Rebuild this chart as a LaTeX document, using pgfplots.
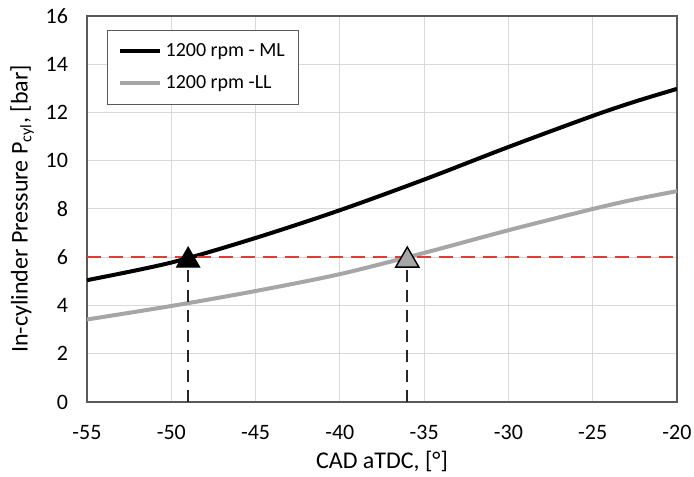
\documentclass[border=0pt]{standalone}
\usepackage{fontspec}
\setmainfont{Carlito}
\usepackage{pgfplots}
\pgfplotsset{compat=1.18}
\definecolor{gridc}{HTML}{D9D9D9}
\definecolor{llgray}{HTML}{A6A6A6}
\definecolor{redd}{HTML}{E03C31}
\definecolor{framec}{HTML}{595959}
\begin{document}
\begin{tikzpicture}
\begin{axis}[
  scale only axis,
  width=295pt, height=193pt,
  xmin=-55, xmax=-20, ymin=0, ymax=16,
  xtick={-55,-50,...,-20}, ytick={0,2,...,16},
  /pgf/number format/assume math mode=true,
  grid=major,
  major grid style={gridc, line width=0.5pt},
  axis line style={framec, line width=0.7pt},
  tick style={draw=none},
  ticklabel style={font=\fontsize{11}{13}\selectfont},
  xticklabel style={yshift=-8pt},
  yticklabel style={xshift=-6pt},
  xlabel={CAD aTDC, [°]},
  ylabel={In-cylinder Pressure P\textsubscript{cyl}, [bar]},
  label style={font=\fontsize{12}{14}\selectfont},
  xlabel style={yshift=1pt},
  ylabel style={yshift=-1pt},
  legend style={at={(0.034,0.964)}, anchor=north west, draw=framec, line width=0.6pt,
    font=\fontsize{10}{12}\selectfont, inner xsep=5pt, inner ysep=4.5pt, row sep=4pt,
    cells={anchor=west}},
  legend image code/.code={\draw[#1] (0pt,0pt) -- (20pt,0pt);},
]
\addplot[black, line width=2pt, smooth, tension=0.5] coordinates {
  (-55,5.05) (-50,5.78) (-45,6.80) (-40,7.95) (-35,9.22) (-30,10.57) (-25,11.86) (-22.5,12.45) (-20,12.98)};
\addlegendentry{1200 rpm - ML}
\addplot[llgray, line width=2pt, smooth, tension=0.5] coordinates {
  (-55,3.42) (-50,3.98) (-45,4.60) (-40,5.30) (-35,6.18) (-30,7.12) (-25,8.00) (-22.5,8.40) (-20,8.74)};
\addlegendentry{1200 rpm -LL}
\addplot[redd, line width=1pt, dash pattern=on 7pt off 4pt, forget plot] coordinates {(-55,6) (-20,6)};
\addplot[black!85, line width=0.9pt, dash pattern=on 6pt off 4pt, forget plot] coordinates {(-49,0) (-49,6)};
\addplot[black!85, line width=0.9pt, dash pattern=on 6pt off 4pt, forget plot] coordinates {(-36,0) (-36,6)};
\addplot[only marks, mark=triangle*, mark size=6.7pt, mark options={fill=black, draw=black, line width=0.5pt, yshift=-1.6pt}, forget plot] coordinates {(-49,6)};
\addplot[only marks, mark=triangle*, mark size=6.7pt, mark options={fill=llgray, draw=black, line width=0.7pt, yshift=-1.6pt}, forget plot] coordinates {(-36,6)};
\end{axis}
\pgfresetboundingbox
\path[use as bounding box] ([xshift=-43.5pt,yshift=-37pt]current axis.south west) rectangle ([xshift=8.5pt,yshift=8pt]current axis.north east);
\end{tikzpicture}
\end{document}
